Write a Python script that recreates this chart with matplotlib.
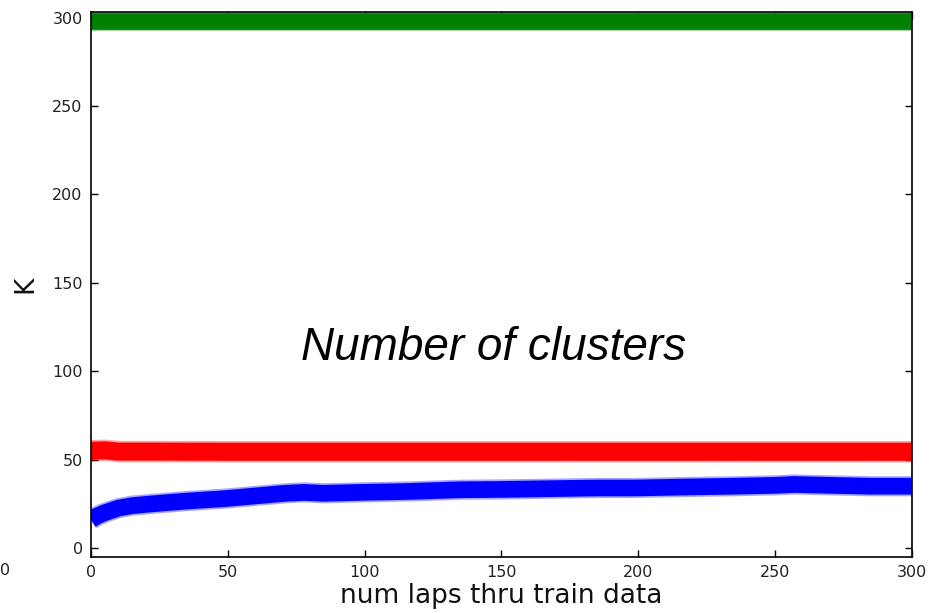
import matplotlib
matplotlib.use("Agg")
import matplotlib.pyplot as plt

# laps and K
laps_blue = [0, 2, 5, 10, 15, 22, 34, 49, 60, 71, 78, 85, 98, 115, 135, 150,
             171, 185, 199, 215, 235, 250, 257, 270, 285, 300]
k_blue = [16, 18, 20, 22.6, 24, 25, 26.5, 28, 29.5, 31, 31.5, 31, 31.5, 32,
          33, 33.2, 33.7, 34, 34, 34.5, 35, 35.5, 36, 35.5, 35, 35]

laps_red = [0, 5, 10, 50, 100, 150, 200, 250, 300]
k_red = [55, 55.3, 54.6, 54.5, 54.5, 54.5, 54.5, 54.5, 54.5]

laps_green = [0, 50, 100, 150, 200, 250, 300]
k_green = [298, 298, 298, 298, 298, 298, 298]

xticks = [0, 50, 100, 150, 200, 250, 300]
yticks = [0, 50, 100, 150, 200, 250, 300]

fig = plt.figure(figsize=(9.44, 6.13), dpi=100)
ax = fig.add_axes([0.0964, 0.0914, 0.8696, 0.8886])

series = [(laps_green, k_green, "#008000", 12),
          (laps_red, k_red, "#ff0000", 13),
          (laps_blue, k_blue, "#0000ff", 12)]
for xs, ys, c, w in series:
    # soft fringe, then the dense core of the marker band
    ax.plot(xs, ys, color=c, lw=w + 2.5, alpha=0.35, solid_capstyle="butt",
            solid_joinstyle="round")
    ax.plot(xs, ys, color=c, lw=w, solid_capstyle="butt",
            solid_joinstyle="round")

ax.set_xlim(0, 300)
ax.set_ylim(-5, 303)
ax.set_xticks(xticks)
ax.set_yticks(yticks)
ax.tick_params(direction="in", top=True, right=True, length=5, width=1,
               labelsize=11.5, labelcolor="#222222", pad=6)
for s in ax.spines.values():
    s.set_linewidth(1.2)

ax.set_xlabel("num laps thru train data", fontsize=19, color="#111111", labelpad=2)
ax.set_ylabel("K", fontsize=19, color="#111111", labelpad=10)

ax.text(0.49, 0.383, "Number of clusters", transform=ax.transAxes,
        fontsize=33, style="italic", family="Liberation Sans",
        ha="center", va="center")

# stray tick label from a neighbouring panel at the left edge
fig.text(0.0, 0.07, "0", fontsize=11.5, color="#222222", ha="left", va="center")

fig.savefig("out.png", dpi=100)
